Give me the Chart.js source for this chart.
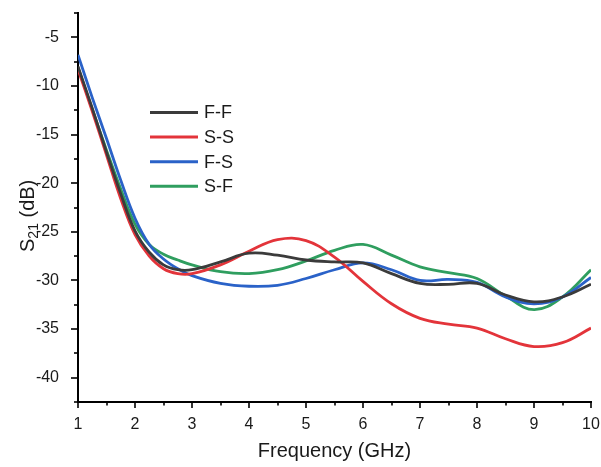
<!DOCTYPE html>
<html><head><meta charset="utf-8">
<script src="https://cdn.jsdelivr.net/npm/chart.js@4.4.1/dist/chart.umd.min.js"></script>
<style>html,body{margin:0;padding:0;background:#fff}#wrap{width:601px;height:467px;position:relative}</style>
</head><body><div id="wrap"><canvas id="c" width="601" height="467"></canvas></div>
<script>
// ---- data ----
const freqGHz = [1,1.25,1.5,1.75,2,2.25,2.5,2.75,3,3.5,4,4.5,5,5.5,6,6.5,7,7.5,8,8.5,9,9.5,10];
const s21_FF = [-8.0,-12.3,-16.8,-21.1,-24.9,-27.1,-28.4,-28.9,-28.9,-28.1,-27.2,-27.4,-27.9,-28.1,-28.2,-29.3,-30.3,-30.4,-30.3,-31.5,-32.2,-31.7,-30.4];
const s21_SS = [-8.3,-12.6,-17.1,-21.6,-25.3,-27.5,-28.8,-29.3,-29.3,-28.4,-27.0,-25.8,-25.9,-27.6,-30.1,-32.4,-33.9,-34.5,-34.9,-36.0,-36.8,-36.4,-34.9];
const s21_FS = [-6.8,-11.2,-15.4,-19.7,-23.6,-26.3,-27.8,-28.8,-29.5,-30.3,-30.6,-30.5,-29.8,-28.9,-28.2,-28.9,-30.0,-29.9,-30.2,-31.7,-32.4,-31.7,-29.7];
const s21_SF = [-8.1,-12.4,-16.6,-20.6,-24.2,-26.3,-27.3,-27.9,-28.4,-29.1,-29.3,-28.9,-28.0,-26.9,-26.3,-27.4,-28.6,-29.2,-29.8,-31.6,-33.0,-31.7,-28.9];
const seriesNames = ['F-F','S-S','F-S','S-F'];
const seriesColors = ['#3b3b3b','#e3343a','#2a62c8','#2f9e5f'];
const xTickLabels = [1,2,3,4,5,6,7,8,9,10];
const yTickLabels = [-40,-35,-30,-25,-20,-15,-10,-5];
const xTitle = 'Frequency (GHz)';
const yTitleMain = 'S', yTitleSub = '21', yTitleRest = ' (dB)';

const FONT = '"Liberation Sans", Arial, sans-serif';
const allSeries = [s21_FF, s21_SS, s21_FS, s21_SF];
const datasets = allSeries.map((vals, i) => ({
  label: seriesNames[i],
  data: freqGHz.map((f, k) => ({x: f, y: vals[k]})),
  borderColor: seriesColors[i],
  backgroundColor: seriesColors[i],
  borderWidth: 2.8,
  pointRadius: 0,
  tension: 0.4,
  fill: false
}));

const minorTicks = {
  id: 'minorTicks',
  afterDraw(chart) {
    const ctx = chart.ctx, xs = chart.scales.x, ys = chart.scales.y, a = chart.chartArea;
    ctx.save();
    ctx.strokeStyle = '#000'; ctx.lineWidth = 1.6;
    for (let v = xs.min; v <= xs.max + 1e-9; v += 0.5) {
      const px = Math.round(xs.getPixelForValue(v));
      const major = xTickLabels.includes(v);
      ctx.beginPath(); ctx.moveTo(px, a.bottom); ctx.lineTo(px, a.bottom + (major ? 6 : 3.5)); ctx.stroke();
    }
    for (let v = ys.min; v <= ys.max + 1e-9; v += 2.5) {
      const py = Math.round(ys.getPixelForValue(v));
      const major = yTickLabels.includes(v);
      ctx.beginPath(); ctx.moveTo(a.left, py); ctx.lineTo(a.left - (major ? 7 : 4), py); ctx.stroke();
    }
    // y axis title with real subscript
    ctx.fillStyle = '#1a1a1a';
    ctx.translate(34, 252);
    ctx.rotate(-Math.PI / 2);
    ctx.textBaseline = 'alphabetic'; ctx.textAlign = 'left';
    ctx.font = '20px ' + FONT;
    ctx.fillText(yTitleMain, 0, 0);
    let w = ctx.measureText(yTitleMain).width;
    ctx.font = '14px ' + FONT;
    ctx.fillText(yTitleSub, w, 4);
    w += ctx.measureText(yTitleSub).width;
    ctx.font = '20px ' + FONT;
    ctx.fillText(yTitleRest, w, 0);
    ctx.restore();
  }
};

const insideLegend = {
  id: 'insideLegend',
  afterDraw(chart) {
    const ctx = chart.ctx;
    ctx.save();
    ctx.font = '18px ' + FONT;
    ctx.textBaseline = 'middle'; ctx.textAlign = 'left';
    chart.data.datasets.forEach((ds, i) => {
      const y = 112.5 + i * 24.6;
      ctx.strokeStyle = ds.borderColor; ctx.lineWidth = 3;
      ctx.beginPath(); ctx.moveTo(150, y); ctx.lineTo(198, y); ctx.stroke();
      ctx.fillStyle = '#1a1a1a';
      ctx.fillText(ds.label, 204, y + 1);
    });
    ctx.restore();
  }
};

new Chart(document.getElementById('c'), {
  type: 'line',
  data: { datasets },
  options: {
    responsive: false,
    devicePixelRatio: 1,
    animation: false,
    layout: { padding: { left: 0, top: 13, right: 10, bottom: 0 } },
    plugins: { legend: { display: false }, tooltip: { enabled: false } },
    scales: {
      x: {
        type: 'linear', min: 1, max: 10,
        afterFit: s => { s.height = 65; s.paddingLeft = 0; s.paddingRight = 0; },
        grid: { display: false },
        border: { display: true, color: '#000', width: 2 },
        ticks: {
          stepSize: 0.5, autoSkip: false, maxRotation: 0, padding: 5,
          color: '#1a1a1a', font: { family: FONT, size: 16 },
          callback: v => xTickLabels.includes(v) ? String(v) : ''
        },
        title: { display: true, text: xTitle, color: '#1a1a1a', font: { family: FONT, size: 20 }, padding: { top: 0, bottom: 3.5 } }
      },
      y: {
        type: 'linear', min: -42.5, max: -2.5,
        afterFit: s => { s.width = 78; s.paddingTop = 0; s.paddingBottom = 0; },
        grid: { display: false },
        border: { display: true, color: '#000', width: 2 },
        ticks: {
          stepSize: 2.5, autoSkip: false, padding: 11,
          color: '#1a1a1a', font: { family: FONT, size: 16 },
          callback: v => yTickLabels.includes(v) ? String(v) : ''
        }
      }
    }
  },
  plugins: [minorTicks, insideLegend]
});
</script>
</body></html>
